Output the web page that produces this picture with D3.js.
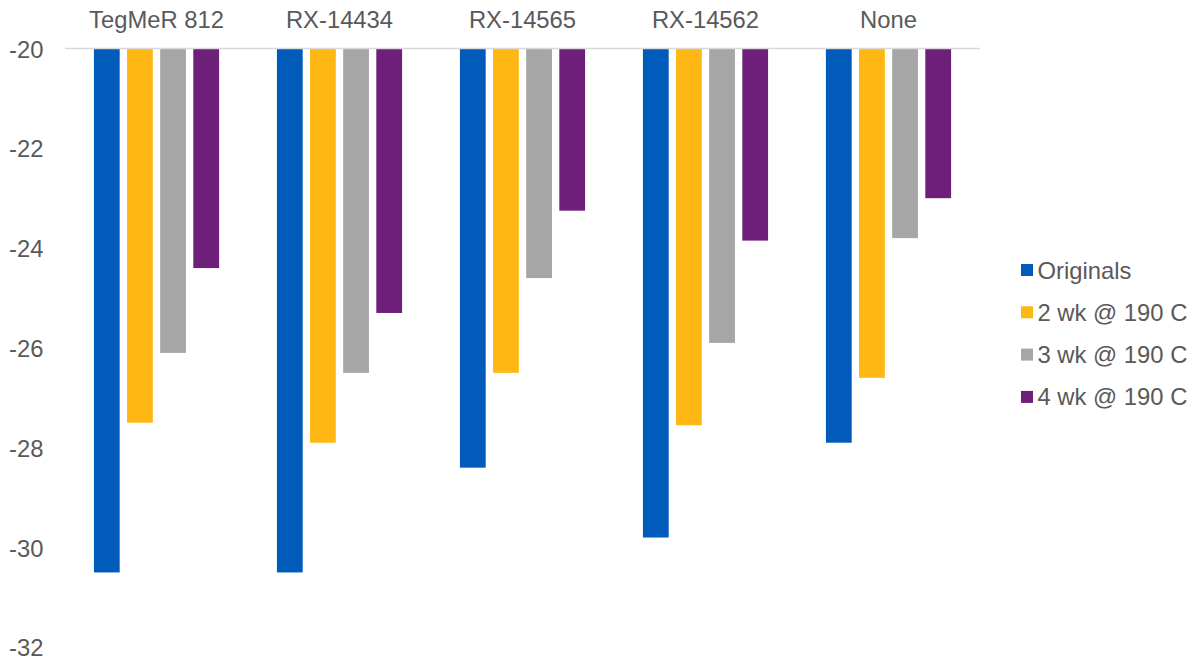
<!DOCTYPE html>
<html>
<head>
<meta charset="utf-8">
<script src="https://cdn.jsdelivr.net/npm/d3@7"></script>
<style>
  html, body { margin: 0; padding: 0; background: #fff; }
  svg { display: block; font-family: Arial, "Liberation Sans", sans-serif; }
</style>
</head>
<body>
<svg id="chart" width="1196" height="661"></svg>
<script>
// Chart data
const categories = ["TegMeR 812", "RX-14434", "RX-14565", "RX-14562", "None"];
const seriesNames = ["Originals", "2 wk @ 190 C", "3 wk @ 190 C", "4 wk @ 190 C"];
const originals = [-30.5, -30.5, -28.4, -29.8, -27.9];
const wk2 = [-27.5, -27.9, -26.5, -27.55, -26.6];
const wk3 = [-26.1, -26.5, -24.6, -25.9, -23.8];
const wk4 = [-24.4, -25.3, -23.25, -23.85, -23.0];
const yTicks = [-20, -22, -24, -26, -28, -30, -32];
const seriesColors = ["#005BBB", "#FFB714", "#A6A6A6", "#6D1F79"];

const seriesValues = [originals, wk2, wk3, wk4];

const svg = d3.select("#chart");
const textColor = "#595959";
const fontSize = "23.8px";

const plot = { left: 65, right: 980, top: 48.5, bottom: 647.3 };

const x0 = d3.scaleBand()
  .domain(categories)
  .range([plot.left, plot.right])
  .paddingInner(0)
  .paddingOuter(0);

const groupWidth = x0.bandwidth() * 0.684;
const groupOffset = (x0.bandwidth() - groupWidth) / 2;

const x1 = d3.scaleBand()
  .domain(seriesNames)
  .range([0, groupWidth])
  .paddingInner(0.222)
  .paddingOuter(0);

const y = d3.scaleLinear()
  .domain([-20, -32])
  .range([plot.top, plot.bottom]);

const color = d3.scaleOrdinal().domain(seriesNames).range(seriesColors);

// Bars hang down from the -20 baseline
const rows = [];
categories.forEach((c, ci) => {
  seriesNames.forEach((s, si) => {
    rows.push({ category: c, series: s, value: seriesValues[si][ci] });
  });
});

svg.append("g")
  .selectAll("rect")
  .data(rows)
  .join("rect")
  .attr("x", d => x0(d.category) + groupOffset + x1(d.series))
  .attr("y", y(-20))
  .attr("width", x1.bandwidth())
  .attr("height", d => y(d.value) - y(-20))
  .attr("fill", d => color(d.series));

// Horizontal axis line at -20
svg.append("line")
  .attr("x1", plot.left)
  .attr("x2", plot.right)
  .attr("y1", y(-20))
  .attr("y2", y(-20))
  .attr("stroke", "#D9D9D9")
  .attr("stroke-width", 1.5);

// Category labels above the axis
svg.append("g")
  .selectAll("text")
  .data(categories)
  .join("text")
  .attr("x", d => x0(d) + x0.bandwidth() / 2)
  .attr("y", 28.3)
  .attr("text-anchor", "middle")
  .attr("fill", textColor)
  .style("font-size", fontSize)
  .text(d => d);

// Value axis labels (plain hyphen-minus)
const yAxis = d3.axisLeft(y).tickValues(yTicks).tickSize(0).tickPadding(0).tickFormat(d => String(d));
const yg = svg.append("g")
  .attr("transform", "translate(43.5,0)")
  .call(yAxis);
yg.select(".domain").remove();
yg.selectAll("text")
  .attr("fill", textColor)
  .attr("dy", "0.36em")
  .style("font-size", fontSize)
  .style("font-family", "Arial, 'Liberation Sans', sans-serif");

// Legend
const legend = svg.append("g")
  .selectAll("g")
  .data(seriesNames)
  .join("g")
  .attr("transform", (d, i) => `translate(1021, ${270 + i * 42.3})`);

legend.append("rect")
  .attr("x", 0)
  .attr("y", -6)
  .attr("width", 12)
  .attr("height", 12)
  .attr("fill", d => color(d));

legend.append("text")
  .attr("x", 16.5)
  .attr("y", 0)
  .attr("dy", "0.36em")
  .attr("fill", textColor)
  .style("font-size", fontSize)
  .text(d => d);
</script>
</body>
</html>
